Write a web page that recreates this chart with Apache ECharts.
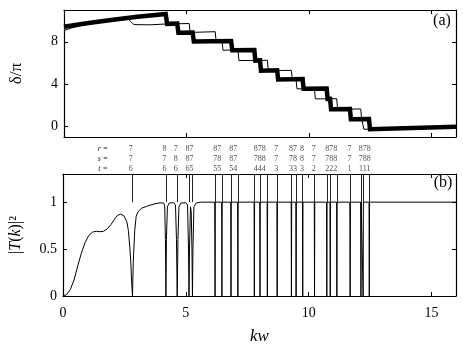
<!DOCTYPE html>
<html><head><meta charset="utf-8">
<script src="https://cdn.jsdelivr.net/npm/echarts@6/dist/echarts.min.js"></script>
<style>html,body{margin:0;padding:0;background:#fff}#c{width:463px;height:346px}</style>
</head><body><div id="c"></div>
<script>
// ---- data ----
const thickPhase = [[0,9.41],[1,9.78],[2,10.08],[3,10.36],[4.15,10.63],[4.21,9.69],[4.62,9.72],[4.67,8.85],[5.25,8.88],[5.30,8.03],[6.82,8.07],[6.87,7.20],[7.77,7.22],[7.81,6.22],[8.00,6.24],[8.04,5.27],[8.70,5.30],[8.74,4.44],[9.74,4.47],[9.78,3.55],[10.72,3.58],[10.76,2.60],[10.86,2.61],[10.90,1.62],[11.67,1.65],[11.71,0.68],[12.45,0.70],[12.49,-0.26],[16,-0.03]];
const thinPhase = [[0,9.06],[0.3,9.30],[0.7,9.55],[1.5,9.85],[2.2,10.05],[2.62,10.15],[2.75,9.85],[2.85,9.62],[2.92,9.53],[3.5,9.60],[4.19,9.68],[5.11,9.72],[5.15,8.88],[6.17,8.95],[6.21,8.05],[6.45,8.06],[6.49,7.20],[7.10,7.22],[7.14,6.22],[8.30,6.25],[8.34,5.27],[9.28,5.30],[9.32,4.44],[9.47,4.45],[9.51,3.55],[10.22,3.57],[10.26,2.60],[11.13,2.62],[11.17,1.62],[12.11,1.65],[12.15,0.68],[12.20,0.68],[12.24,-0.27],[16,-0.03]];
const transmission = [[0,0],[0.15,0.015],[0.3,0.07],[0.45,0.17],[0.6,0.32],[0.75,0.46],[0.9,0.57],[1.05,0.645],[1.2,0.68],[1.35,0.69],[1.5,0.685],[1.65,0.69],[1.8,0.715],[1.95,0.76],[2.1,0.82],[2.22,0.86],[2.35,0.872],[2.48,0.855],[2.6,0.79],[2.66,0.70],[2.72,0.52],[2.76,0.36],[2.8,0.12],[2.83,0],[2.86,0.36],[2.92,0.70],[2.98,0.85],[3.06,0.9],[3.2,0.935],[3.4,0.955],[3.7,0.98],[3.95,0.993],[4.1,0.99],[4.14,0.96],[4.17,0.6],[4.19,0],[4.21,0.6],[4.25,0.95],[4.32,0.99],[4.5,0.995],[4.58,0.97],[4.62,0.6],[4.65,0],[4.68,0.6],[4.72,0.95],[4.8,0.99],[5.0,0.995],[5.07,0.97],[5.11,0.5],[5.13,0],[5.15,0.5],[5.19,0.95],[5.22,0.9],[5.25,0.5],[5.27,0],[5.29,0.5],[5.33,0.95],[5.42,0.99],[5.6,1],[6.18,1],[6.19,0],[6.20,1],[6.46,1],[6.47,0],[6.48,1],[6.83,1],[6.84,0],[6.85,1],[7.11,1],[7.12,0],[7.13,1],[7.78,1],[7.79,0],[7.80,1],[8.01,1],[8.02,0],[8.03,1],[8.31,1],[8.32,0],[8.33,1],[8.71,1],[8.72,0],[8.73,1],[9.29,1],[9.30,0],[9.31,1],[9.48,1],[9.49,0],[9.50,1],[9.75,1],[9.76,0],[9.77,1],[10.23,1],[10.24,0],[10.25,1],[10.73,1],[10.74,0],[10.75,1],[10.87,1],[10.88,0],[10.89,1],[11.14,1],[11.15,0],[11.16,1],[11.68,1],[11.69,0],[11.70,1],[12.12,1],[12.13,0],[12.14,1],[12.21,1],[12.22,0],[12.23,1],[12.46,1],[12.47,0],[12.48,1],[16,1]];
const resKw = [2.83,4.19,4.65,5.13,5.27,6.19,6.47,6.84,7.12,7.79,8.02,8.32,8.72,9.30,9.49,9.76,10.24,10.74,10.88,11.15,11.69,12.13,12.22,12.47];
const resR = [7,8,7,8,7,8,7,8,7,8,7,8,7,8,7,8,7,8,7,8,7,8,7,8];
const resS = [7,7,8,8,7,7,8,8,7,7,8,8,7,7,8,8,7,7,8,8,7,7,8,8];
const resT = [6,6,6,6,5,5,5,5,4,4,4,4,3,3,3,3,2,2,2,2,1,1,1,1];
const labelGroups = [[0],[1],[2],[3,4],[5,6],[7,8],[9,10,11],[12],[13,14],[15],[16],[17,18,19],[20],[21,22,23]];
const xTicks = [0,5,10,15];
const phaseTicks = [0,4,8];
const transTicks = [0,0.5,1];

// ---- build ----
const serif = 'Liberation Serif';
const rows = [[resR,2],[resS,1],[resT,0]];
const labelData = [];
labelGroups.forEach(g => {
  const c = (resKw[g[0]] + resKw[g[g.length-1]]) / 2;
  rows.forEach(([arr, y]) => {
    labelData.push({name: g.map(i => arr[i]).join(''), value: [c, y]});
  });
});
const axisLine = {show:true, onZero:false, lineStyle:{color:'#000', width:1.2}};
function xAx(grid, pos, labels, extra) {
  return Object.assign({gridIndex:grid, type:'value', position:pos, min:0, max:16, interval:5,
    axisLine, splitLine:{show:false},
    axisTick:{show:true, inside:true, length:4, lineStyle:{color:'#000'}, customValues:xTicks},
    axisLabel:{show:labels, customValues:xTicks, margin:10, color:'#000', fontFamily:serif, fontSize:14}}, extra||{});
}
function yAx(grid, pos, min, max, ticks, labels, extra) {
  return Object.assign({gridIndex:grid, type:'value', position:pos, min, max,
    axisLine, splitLine:{show:false},
    axisTick:{show:true, inside:true, length:4, lineStyle:{color:'#000'}, customValues:ticks},
    axisLabel:{show:labels, customValues:ticks, margin:6, color:'#000', fontFamily:serif, fontSize:14}}, extra||{});
}
const option = {
  animation:false,
  backgroundColor:'#fff',
  grid:[
    {left:61, right:7, top:10, height:127},
    {left:61, right:7, top:174, height:128},
    {left:61, right:7, top:149, height:20}
  ],
  xAxis:[
    xAx(0,'bottom',false),
    xAx(0,'top',false),
    xAx(1,'bottom',true,{name:'kw', nameLocation:'middle', nameGap:32,
       nameTextStyle:{fontFamily:serif, fontStyle:'italic', fontSize:17, color:'#000'}}),
    xAx(1,'top',false),
    {gridIndex:2, type:'value', min:0, max:16, show:false}
  ],
  yAxis:[
    yAx(0,'left',-1,11,phaseTicks,true,{name:'δ/π', nameLocation:'middle', nameGap:39, nameRotate:90,
       nameTextStyle:{fontFamily:serif, fontSize:17, color:'#000'}}),
    yAx(0,'right',-1,11,phaseTicks,false),
    yAx(1,'left',0,1.3,transTicks,true,{name:'|{i|T}({i|k})|²', nameLocation:'middle', nameGap:39, nameRotate:90,
       nameTextStyle:{fontFamily:serif, fontSize:16, color:'#000',
         rich:{i:{fontFamily:serif, fontStyle:'italic', fontSize:16, color:'#000'}}}}),
    yAx(1,'right',0,1.3,transTicks,false),
    {gridIndex:2, type:'value', min:0, max:2, show:false}
  ],
  series:[
    {type:'line', xAxisIndex:0, yAxisIndex:0, data:thinPhase, showSymbol:false, symbol:'none',
     lineStyle:{color:'#000', width:1}},
    {type:'line', xAxisIndex:0, yAxisIndex:0, data:thickPhase, showSymbol:false, symbol:'none',
     lineStyle:{color:'#000', width:4.5, join:'miter'}},
    {type:'line', xAxisIndex:2, yAxisIndex:2, data:transmission, showSymbol:false, symbol:'none',
     lineStyle:{color:'#000', width:1},
     markLine:{silent:true, symbol:['none','none'], label:{show:false},
       lineStyle:{color:'#222', width:1, type:'solid'},
       data: resKw.map(k => [{coord:[k,1]},{coord:[k,1.3]}])}},
    {type:'scatter', xAxisIndex:4, yAxisIndex:4, data:labelData, symbolSize:1,
     itemStyle:{color:'rgba(0,0,0,0)'},
     label:{show:true, position:'inside', formatter:p=>p.name, color:'#222',
       fontFamily:serif, fontSize:8}}
  ],
  graphic:[
    {type:'text', x:442, y:21, style:{text:'(a)', fontFamily:serif, fontSize:16, fill:'#000', align:'center', verticalAlign:'middle'}},
    {type:'text', x:443, y:183, style:{text:'(b)', fontFamily:serif, fontSize:16, fill:'#000', align:'center', verticalAlign:'middle'}},
    {type:'text', x:103, y:149, style:{text:'r =', fontFamily:serif, fontStyle:'italic', fontSize:8, fill:'#222', align:'center', verticalAlign:'middle'}},
    {type:'text', x:103, y:159, style:{text:'s =', fontFamily:serif, fontStyle:'italic', fontSize:8, fill:'#222', align:'center', verticalAlign:'middle'}},
    {type:'text', x:103, y:169, style:{text:'t =', fontFamily:serif, fontStyle:'italic', fontSize:8, fill:'#222', align:'center', verticalAlign:'middle'}}
  ]
};
const chart = echarts.init(document.getElementById('c'), null, {renderer:'canvas'});
chart.setOption(option);
</script>
</body></html>
